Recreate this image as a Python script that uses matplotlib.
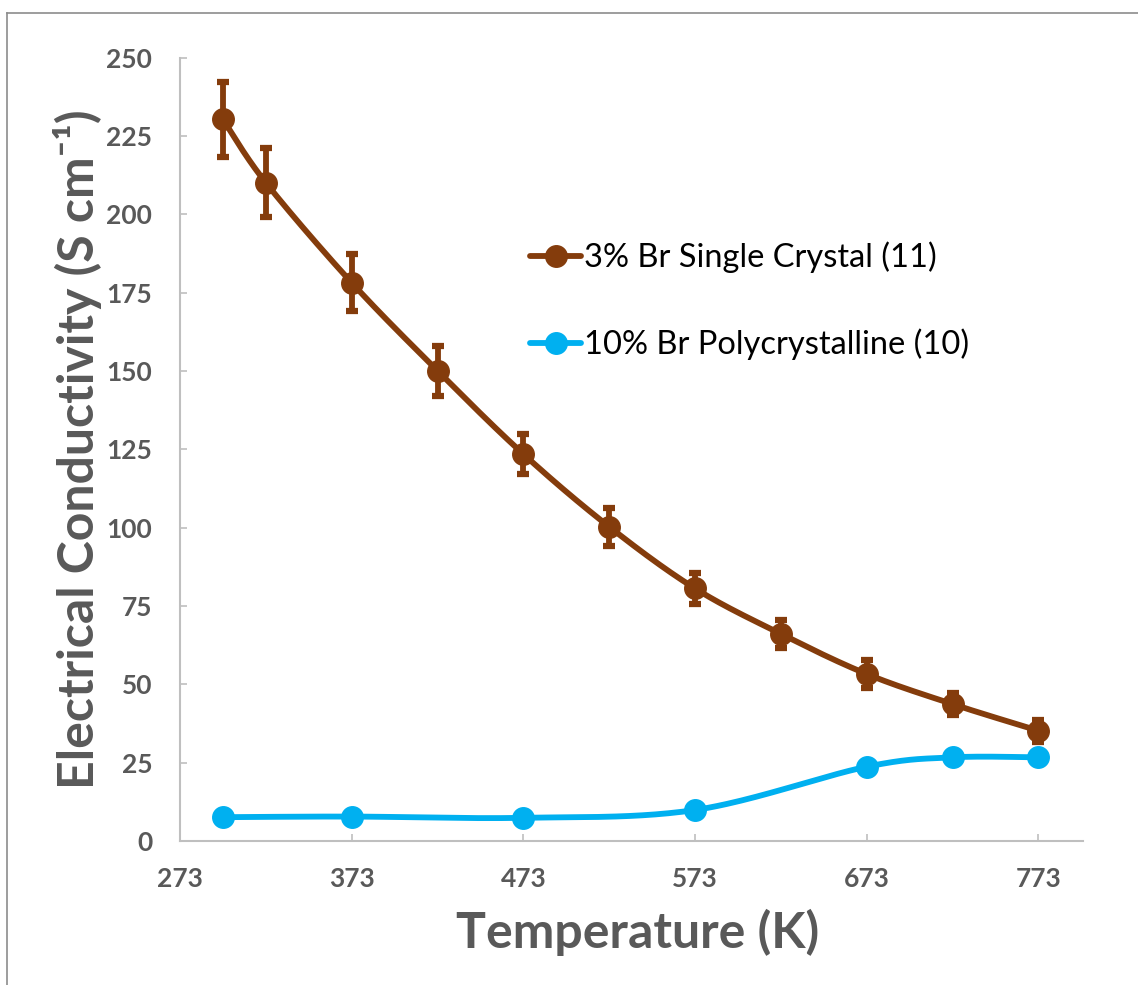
import numpy as np
import matplotlib
matplotlib.use("Agg")
import matplotlib.pyplot as plt
from matplotlib.lines import Line2D

plt.rcParams['font.family'] = ['Lato', 'DejaVu Sans']

# 数据
temp_crystal = [298, 323, 373, 423, 473, 523, 573, 623, 673, 723, 773]
sigma_crystal = [230.3, 210.1, 178.2, 150.1, 123.5, 100.3, 80.6, 66.1, 53.3, 43.7, 35.2]
err_crystal = [12.0, 11.0, 9.0, 8.0, 6.5, 6.0, 5.0, 4.5, 4.5, 3.5, 3.5]

temp_poly = [298, 373, 473, 573, 673, 723, 773]
sigma_poly = [7.6, 7.8, 7.4, 9.9, 23.7, 26.7, 26.7]

label_crystal = "3% Br Single Crystal (11)"
label_poly = "10% Br Polycrystalline (10)"
x_ticks = [273, 373, 473, 573, 673, 773]
y_ticks = [0, 25, 50, 75, 100, 125, 150, 175, 200, 225, 250]

BROWN = "#843C0C"
BLUE = "#00B0F0"
GRAY = "#595959"
AXIS = "#BFBFBF"


def smooth(x, y, n=40):
    """Excel风格的平滑曲线 (Bezier, 张力1/6)"""
    p = np.column_stack([x, y]).astype(float)
    out = [p[0]]
    t = np.linspace(0, 1, n)[1:, None]
    for i in range(len(p) - 1):
        p0 = p[i - 1] if i > 0 else p[i]
        p3 = p[i + 2] if i + 2 < len(p) else p[i + 1]
        p1, p2 = p[i], p[i + 1]
        c1 = p1 + (p2 - p0) / 6.0
        c2 = p2 - (p3 - p1) / 6.0
        seg = ((1 - t) ** 3) * p1 + 3 * ((1 - t) ** 2) * t * c1 + 3 * (1 - t) * t ** 2 * c2 + t ** 3 * p2
        out.extend(seg)
    out = np.array(out)
    return out[:, 0], out[:, 1]


fig = plt.figure(figsize=(11.38, 9.85), dpi=100)
ax = fig.add_axes([180 / 1138, 1 - 841 / 985, (1083 - 180) / 1138, (841 - 57.7) / 985])

LW = 4.2
MS = 15.5

# 平滑线
sx, sy = smooth(temp_crystal, sigma_crystal)
ax.plot(sx, sy, color=BROWN, lw=LW, solid_capstyle='round', zorder=3)
px, py = smooth(temp_poly, sigma_poly)
ax.plot(px, py, color=BLUE, lw=LW, solid_capstyle='round', zorder=3)

# 误差棒和点
ax.errorbar(temp_crystal, sigma_crystal, yerr=err_crystal, fmt='none', ecolor=BROWN,
            elinewidth=LW, capsize=4.5, capthick=4.5, zorder=4)
ax.plot(temp_crystal, sigma_crystal, 'o', color=BROWN, ms=MS, zorder=5)
ax.plot(temp_poly, sigma_poly, 'o', color=BLUE, ms=MS, zorder=5)

ax.set_xlim(273, 799)
ax.set_ylim(0, 250)
ax.set_xticks(x_ticks)
ax.set_yticks(y_ticks)
for s in ['top', 'right']:
    ax.spines[s].set_visible(False)
for s in ['left', 'bottom']:
    ax.spines[s].set_color(AXIS)
    ax.spines[s].set_linewidth(1.5)
ax.tick_params(direction='in', length=5, width=1.2, color=AXIS, labelsize=19,
               labelcolor=GRAY)
ax.tick_params(axis='y', pad=20)
ax.tick_params(axis='x', pad=19)
for lab in ax.get_xticklabels() + ax.get_yticklabels():
    lab.set_fontweight('bold')

ax.set_xlabel("Temperature (K)", fontsize=36, fontweight='bold', color=GRAY)
ax.xaxis.set_label_coords(0.507, -0.086)
ax.set_ylabel("Electrical Conductivity (S cm\u207b\u00b9)", fontsize=36,
              fontweight='bold', color=GRAY)
ax.yaxis.set_label_coords(-0.086, 0.5)

# 图例
handles = [Line2D([], [], color=BROWN, lw=LW, marker='o', ms=MS, solid_capstyle='round'),
           Line2D([], [], color=BLUE, lw=LW, marker='o', ms=MS, solid_capstyle='round')]
ax.legend(handles, [label_crystal, label_poly], loc='upper left',
          bbox_to_anchor=(0.37, 0.786), frameon=False, fontsize=23.5,
          handlelength=1.55, handletextpad=0.1, labelspacing=1.7, borderpad=0)

# 外框 (左和上)
fig.add_artist(Line2D([7 / 1138, 7 / 1138], [0, 1 - 13 / 985], color="#8C8C8C", lw=1.2))
fig.add_artist(Line2D([7 / 1138, 1], [1 - 13 / 985, 1 - 13 / 985], color="#8C8C8C", lw=1.2))

fig.savefig("out.png", dpi=100)
